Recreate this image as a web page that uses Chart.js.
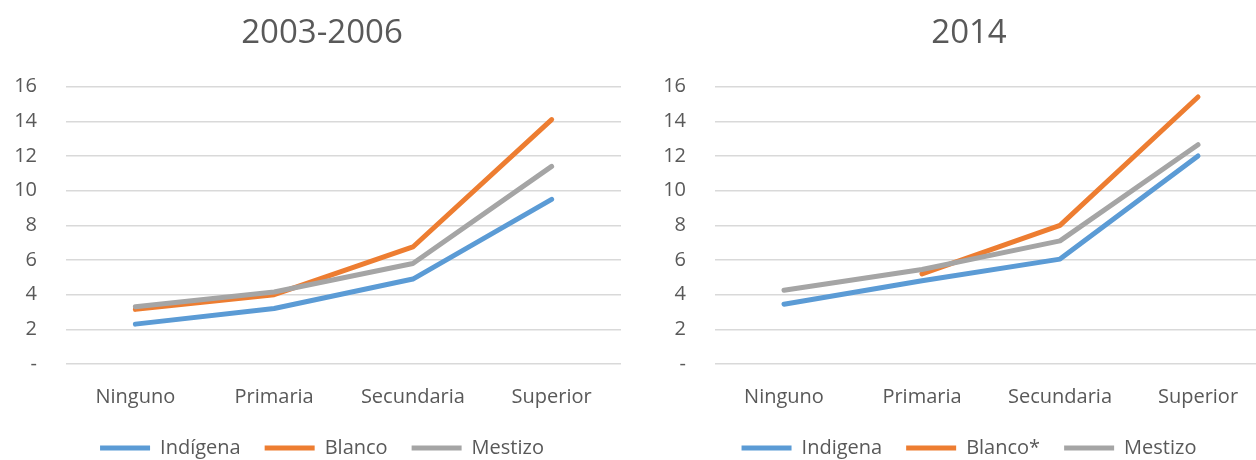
<!DOCTYPE html>
<html>
<head>
<meta charset="utf-8">
<script src="https://cdn.jsdelivr.net/npm/chart.js@4"></script>
<style>
    body { margin: 0; background: #fff; }
    #wrap { position: relative; width: 1256px; height: 460px; overflow: hidden; }
    #wrap canvas { position: absolute; top: 0; }
</style>
</head>
<body>
<div id="wrap">
    <canvas id="chartLeft" width="632" height="468" style="left:0"></canvas>
    <canvas id="chartRight" width="636" height="468" style="left:640px"></canvas>
</div>
<script>
// Education levels on the x axis
const categories = ['Ninguno', 'Primaria', 'Secundaria', 'Superior'];

// 2003-2006
const indigena2003 = [2.3, 3.2, 4.9, 9.5];
const blanco2003 = [3.15, 4.0, 6.75, 14.1];
const mestizo2003 = [3.3, 4.15, 5.8, 11.4];

// 2014 (Blanco has no value for Ninguno)
const indigena2014 = [3.45, 4.8, 6.05, 12.0];
const blanco2014 = [null, 5.2, 8.0, 15.4];
const mestizo2014 = [4.25, 5.45, 7.1, 12.65];

const yTicks = [0, 2, 4, 6, 8, 10, 12, 14, 16];

const textColor = '#595959';
const fontFamily = "'Open Sans', sans-serif";

function lineSet(label, data, color, order) {
    return {
        label: label,
        data: data,
        borderColor: color,
        backgroundColor: color,
        borderWidth: 5,
        borderCapStyle: 'round',
        borderJoinStyle: 'round',
        pointRadius: 0,
        order: order   // gray drawn on top, blue underneath
    };
}

function makeChart(id, title, labels, series, padLeft, yWidth, rightWidth) {
    const ctx = document.getElementById(id).getContext('2d');
    return new Chart(ctx, {
        type: 'line',
        data: {
            labels: categories,
            datasets: [
                lineSet(labels[0], series[0], '#5B9BD5', 2),
                lineSet(labels[1], series[1], '#ED7D31', 1),
                lineSet(labels[2], series[2], '#A5A5A5', 0)
            ]
        },
        options: {
            responsive: false,
            animation: false,
            layout: { padding: { left: padLeft, right: 0, top: 0, bottom: 0 } },
            plugins: {
                title: {
                    display: true,
                    text: title,
                    color: textColor,
                    font: { family: fontFamily, size: 33, weight: 'normal' },
                    padding: { top: 14, bottom: 33 }
                },
                legend: {
                    position: 'bottom',
                    labels: {
                        color: textColor,
                        font: { family: fontFamily, size: 20 },
                        usePointStyle: true,
                        pointStyle: 'line',
                        pointStyleWidth: 50,
                        padding: 24,
                        sort: (a, b) => a.datasetIndex - b.datasetIndex
                    }
                },
                tooltip: { enabled: false }
            },
            scales: {
                x: {
                    offset: true,
                    grid: { display: false },
                    border: { display: false },
                    ticks: {
                        color: textColor,
                        font: { family: fontFamily, size: 20 },
                        padding: 13,
                        maxRotation: 0
                    },
                    afterFit: function(scale) { scale.height = 50; }
                },
                y: {
                    min: 0,
                    max: 16,
                    grid: { color: '#D9D9D9', lineWidth: 1.5, drawTicks: false },
                    border: { display: false },
                    afterBuildTicks: function(scale) {
                        scale.ticks = yTicks.map(v => ({ value: v }));
                    },
                    ticks: {
                        color: textColor,
                        font: { family: fontFamily, size: 20 },
                        padding: 29,
                        callback: function(value) { return value === 0 ? '-' : value; }
                    },
                    afterFit: function(scale) { scale.width = yWidth; }
                },
                // empty spacer on the right so title and legend are centred on the whole panel
                spacer: {
                    type: 'linear',
                    position: 'right',
                    grid: { display: false },
                    border: { display: false },
                    ticks: { display: false },
                    afterFit: function(scale) { scale.width = rightWidth; }
                }
            }
        }
    });
}

makeChart('chartLeft', '2003-2006', ['Indígena', 'Blanco', 'Mestizo'],
    [indigena2003, blanco2003, mestizo2003], 12, 54, 11);

makeChart('chartRight', '2014', ['Indigena', 'Blanco*', 'Mestizo'],
    [indigena2014, blanco2014, mestizo2014], 22, 53, 9);
</script>
</body>
</html>
